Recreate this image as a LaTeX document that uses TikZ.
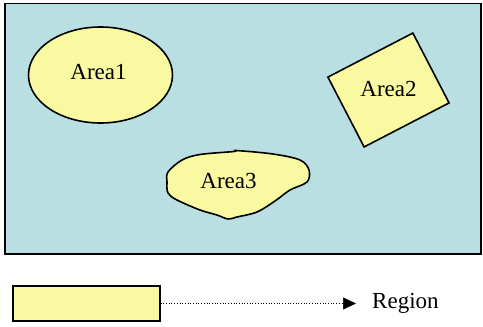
\documentclass[tikz,border=0pt]{standalone}
\usepackage{fontspec}
\setmainfont{Liberation Serif}
\usetikzlibrary{shapes.geometric,arrows.meta}
\definecolor{bgblue}{HTML}{B9DFE3}
\definecolor{areayellow}{HTML}{F9F9A2}
\tikzset{
  areashape/.style={draw=black, fill=areayellow, line width=1.6pt},
  lbl/.style={font=\fontsize{23}{27}\selectfont, inner sep=0pt},
}
\begin{document}
\begin{tikzpicture}[x=1pt,y=-1pt]
\useasboundingbox (0,0) rectangle (483,327);
% region background
\draw[fill=bgblue, line width=1.8pt] (5,3.5) rectangle (481,254);
% Area1
\node[areashape, ellipse, minimum width=144pt, minimum height=96pt, inner sep=0pt] (area1) at (100.5,75) {};
\node[lbl] (t1) at (98.5,72) {Area1};
% Area2
\node[areashape, rectangle, rotate=27.4, minimum width=95.7pt, minimum height=78.7pt, inner sep=0pt] (area2) at (388.5,90) {};
\node[lbl] (t2) at (388.5,88.5) {Area2};
% Area3
\draw[areashape] plot[smooth cycle, tension=0.55] coordinates {
  (168,172) (182,160) (200,154.5) (234,151.5) (236,150.5) (273,154) (300,160)
  (309,170) (307,182) (290,190) (275,201) (257,212) (237,217) (228,219)
  (217,215) (200,210) (177,200) (168,193) (167,182)};
\node[lbl] (t3) at (228.5,180.5) {Area3};
% legend
\node[draw=black, fill=areayellow, line width=1.3pt, minimum width=147pt, minimum height=35pt, inner sep=0pt] (legend) at (86.5,303.5) {};
\coordinate (tip) at (356,303.5);
\draw[dotted, line width=0.7pt, -{Triangle[length=13pt,width=12pt]}] (legend.east) -- (tip);
\node[lbl, anchor=west] (region) at (372,303.5) {Region};
\end{tikzpicture}
\end{document}
